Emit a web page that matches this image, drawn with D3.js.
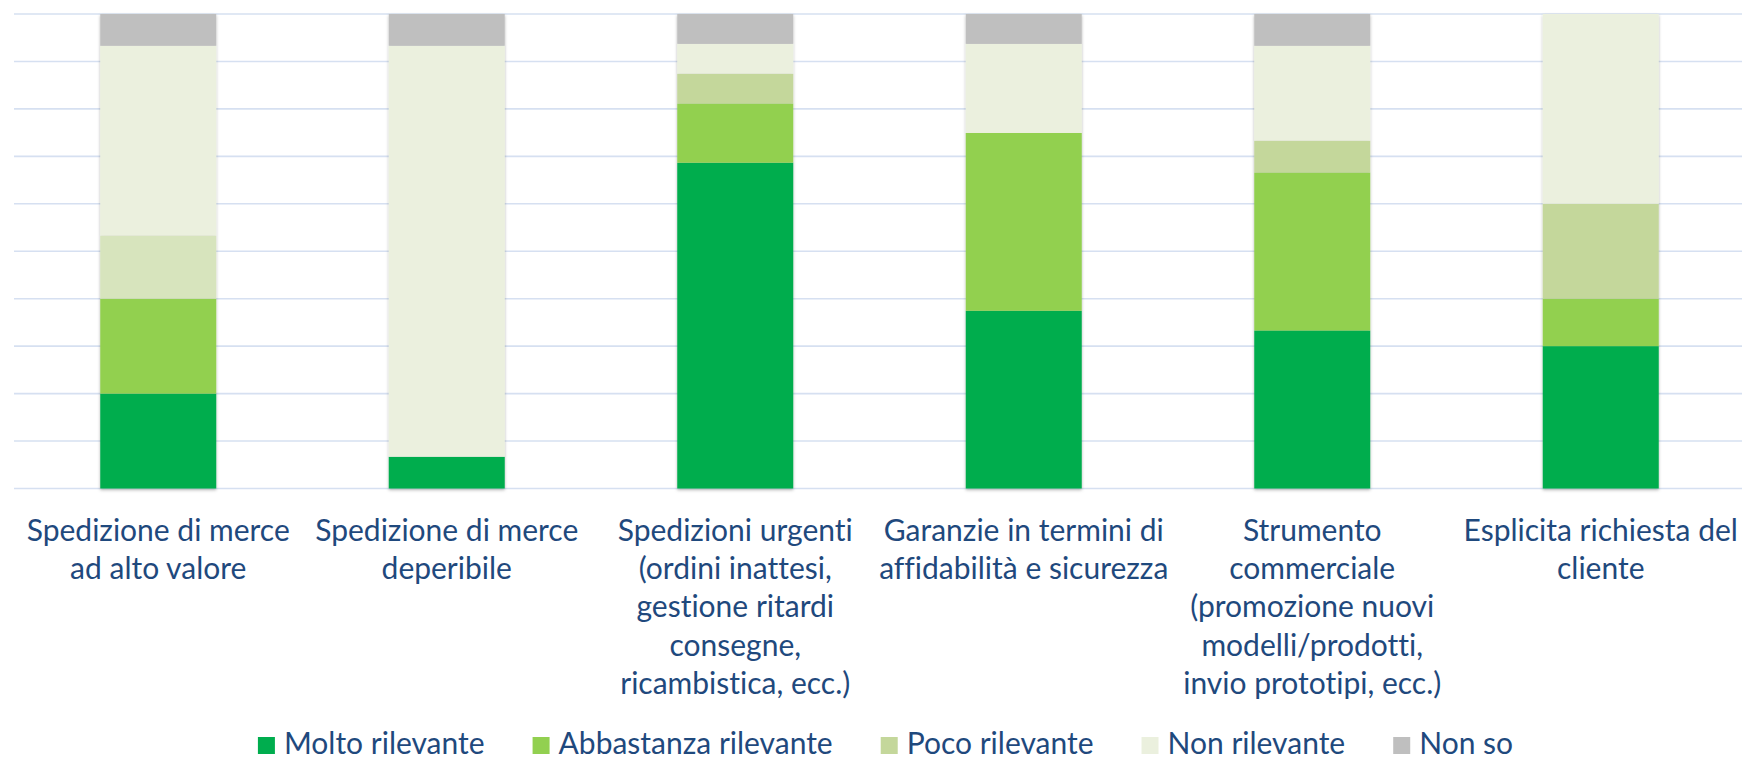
<!DOCTYPE html>
<html>
<head>
<meta charset="utf-8">
<script src="https://cdn.jsdelivr.net/npm/d3@7"></script>
<style>
  body { margin: 0; background: #fff; }
  svg { display: block; }
  text { font-family: Lato, "Open Sans", sans-serif; fill: #1f497d; font-variant-ligatures: none; }
</style>
</head>
<body>
<svg id="chart" width="1742" height="760"></svg>
<script>
// ---------- data (share of answers, %) ----------
const categories = [
  "Spedizione di merce\nad alto valore",
  "Spedizione di merce\ndeperibile",
  "Spedizioni urgenti\n(ordini inattesi,\ngestione ritardi\nconsegne,\nricambistica, ecc.)",
  "Garanzie in termini di\naffidabilità e sicurezza",
  "Strumento\ncommerciale\n(promozione nuovi\nmodelli/prodotti,\ninvio prototipi, ecc.)",
  "Esplicita richiesta del\ncliente"
];
const seriesNames = ["Molto rilevante", "Abbastanza rilevante", "Poco rilevante", "Non rilevante", "Non so"];

const molto       = [20.0,  6.7, 68.8, 37.5, 33.3, 30.0];
const abbastanza  = [20.0,  0.0, 12.5, 37.5, 33.3, 10.0];
const poco        = [13.3,  0.0,  6.3,  0.0,  6.7, 20.0];
const nonRil      = [40.0, 86.7,  6.3, 18.8, 20.0, 40.0];
const nonSo       = [ 6.7,  6.7,  6.3,  6.3,  6.7,  0.0];

const seriesValues = [molto, abbastanza, poco, nonRil, nonSo];

// ---------- styles ----------
const colors = ["#00ad4e", "#92d050", "#c4d79b", "#ebf0de", "#bfbfbf"];
// the first bar uses a lighter tint for "Poco rilevante"
const pointFill = { "Poco rilevante|0": "#d7e4bd" };

const W = 1742, H = 760;
const plot = { left: 14, right: 1745, top: 14, bottom: 488.5 };

const svg = d3.select("#chart");

// rows for d3.stack
const rows = categories.map((c, i) => {
  const r = { cat: c, idx: i };
  seriesNames.forEach((s, k) => { r[s] = seriesValues[k][i]; });
  return r;
});

const stack = d3.stack().keys(seriesNames).offset(d3.stackOffsetExpand);
const layers = stack(rows);

const x = d3.scaleBand()
  .domain(categories)
  .range([plot.left, plot.right])
  .paddingInner(0.598)
  .paddingOuter(0.299);

const y = d3.scaleLinear().domain([0, 1]).range([plot.bottom, plot.top]);

// shadow under the bars
const defs = svg.append("defs");
const f = defs.append("filter").attr("id", "shadow")
  .attr("x", "-10%").attr("y", "-5%").attr("width", "120%").attr("height", "110%");
f.append("feDropShadow")
  .attr("dx", 0).attr("dy", 1.5).attr("stdDeviation", 1.6)
  .attr("flood-color", "#000").attr("flood-opacity", 0.3);

// gridlines
svg.append("g")
  .selectAll("line")
  .data(d3.range(0, 11).map(d => d / 10))
  .join("line")
  .attr("x1", plot.left).attr("x2", W)
  .attr("y1", d => y(d)).attr("y2", d => y(d))
  .attr("stroke", "#d6e0f1")
  .attr("stroke-width", 1.6);

// bars
const barsG = svg.append("g");
rows.forEach((r, i) => {
  const g = barsG.append("g").attr("filter", "url(#shadow)");
  layers.forEach((layer, k) => {
    const d = layer[i];
    const h = y(d[0]) - y(d[1]);
    if (h <= 0.01) return;
    g.append("rect")
      .attr("x", x(r.cat))
      .attr("y", y(d[1]))
      .attr("width", x.bandwidth())
      .attr("height", h)
      .attr("fill", pointFill[`${layer.key}|${i}`] || colors[k]);
  });
});

// category labels
const lineH = 38.3;
const labels = svg.append("g")
  .selectAll("text")
  .data(categories)
  .join("text")
  .attr("text-anchor", "middle")
  .attr("font-size", 30)
  .attr("x", d => x(d) + x.bandwidth() / 2)
  .attr("y", 540.7);

labels.each(function(d) {
  const t = d3.select(this);
  const cx = x(d) + x.bandwidth() / 2;
  d.split("\n").forEach((line, j) => {
    t.append("tspan").attr("x", cx).attr("dy", j === 0 ? 0 : lineH).text(line);
  });
});

// legend
const legend = svg.append("g");
const sw = 17, gapText = 9, gapItem = 48;
let cursor = 0;
seriesNames.forEach((name, k) => {
  const item = legend.append("g").attr("transform", `translate(${cursor},0)`);
  item.append("rect")
    .attr("x", 0).attr("y", 737)
    .attr("width", sw).attr("height", sw)
    .attr("fill", colors[k]);
  const t = item.append("text")
    .attr("x", sw + gapText).attr("y", 754)
    .attr("font-size", 30)
    .text(name);
  cursor += sw + gapText + t.node().getComputedTextLength() + gapItem;
});
const legendW = cursor - gapItem;
legend.attr("transform", `translate(${885.5 - legendW / 2},0)`);
</script>
</body>
</html>
